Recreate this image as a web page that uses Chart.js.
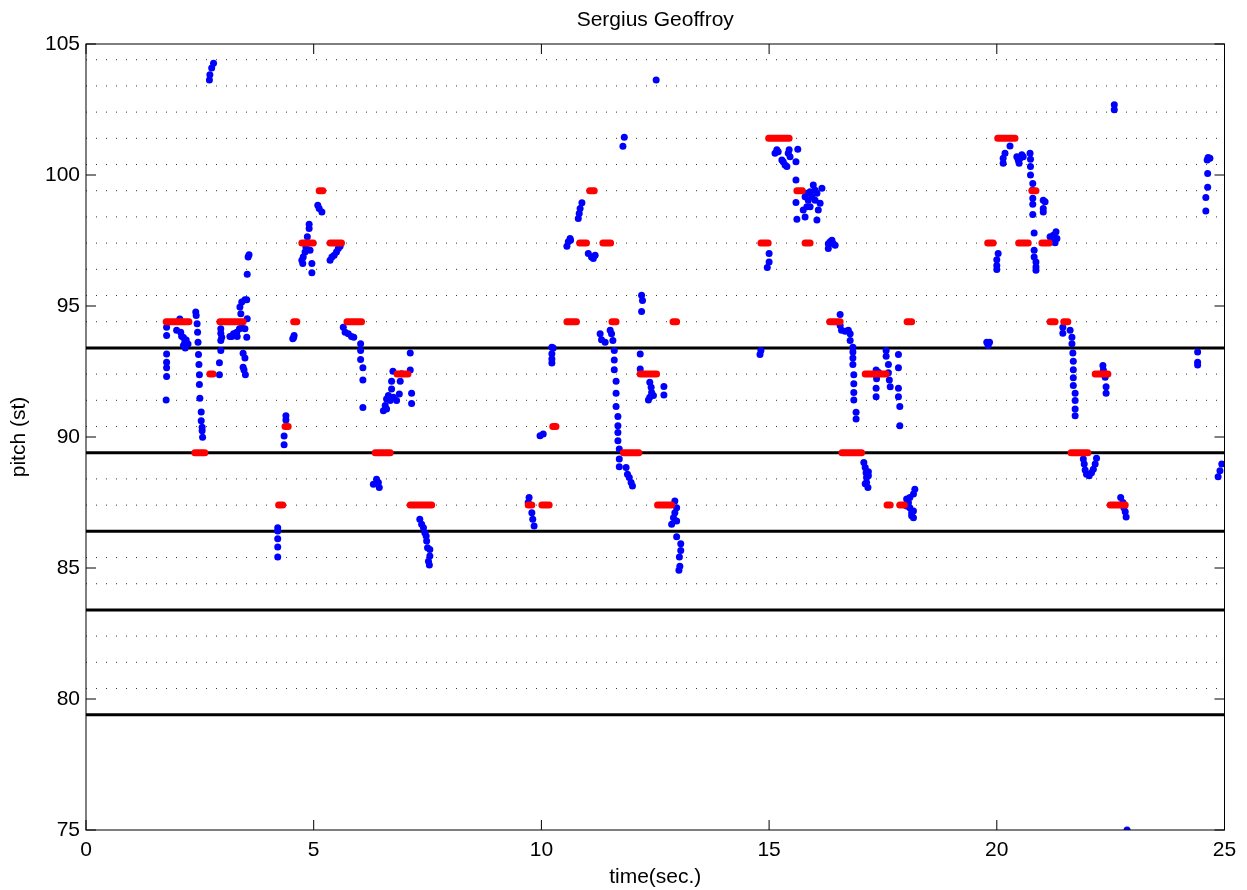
<!DOCTYPE html>
<html>
<head>
<meta charset="utf-8">
<title>Sergius Geoffroy</title>
<script src="https://cdn.jsdelivr.net/npm/chart.js@4.4.1/dist/chart.umd.min.js"></script>
<style>
    body { margin: 0; background: #fff; }
    #wrap { width: 1247px; height: 890px; }
</style>
</head>
<body>
<div id="wrap"><canvas id="pitchChart" width="1247" height="890"></canvas></div>
<script>
// axis ticks
const xTicks = [0, 5, 10, 15, 20, 25];
const yTicks = [75, 80, 85, 90, 95, 100, 105];

// semitone grid (dotted) and register lines (thick)
const semitoneLevels = [80.4, 81.4, 82.4, 84.4, 85.4, 87.4, 88.4, 90.4, 91.4, 92.4, 94.4,
    95.4, 96.4, 97.4, 98.4, 99.4, 100.4, 101.4, 102.4, 103.4, 104.4];
const registerLevels = [79.4, 83.4, 86.4, 89.4, 93.4];

// stylised notes (red): [start, end, pitch]
const notes = [
    [1.76, 2.26, 94.4], [2.39, 2.61, 89.4], [2.72, 2.79, 92.4], [2.94, 3.45, 94.4],
    [4.23, 4.32, 87.4], [4.37, 4.44, 90.4], [4.56, 4.63, 94.4], [4.74, 4.99, 97.4],
    [5.12, 5.20, 99.4], [5.36, 5.61, 97.4], [5.73, 6.05, 94.4], [6.35, 6.68, 89.4],
    [6.83, 7.07, 92.4], [7.12, 7.59, 87.4],
    [9.71, 9.79, 87.4], [10.01, 10.17, 87.4], [10.25, 10.32, 90.4], [10.56, 10.77, 94.4],
    [10.84, 10.99, 97.4], [11.06, 11.16, 99.4], [11.35, 11.52, 97.4], [11.55, 11.64, 94.4],
    [11.80, 12.14, 89.4], [12.17, 12.53, 92.4], [12.55, 12.86, 87.4], [12.89, 12.97, 94.4],
    [14.82, 14.98, 97.4], [14.99, 15.44, 101.4], [15.61, 15.73, 99.4], [15.79, 15.90, 97.4],
    [16.33, 16.56, 94.4], [16.60, 17.03, 89.4], [17.11, 17.57, 92.4], [17.59, 17.66, 87.4],
    [17.87, 17.97, 87.4], [18.03, 18.13, 94.4],
    [19.80, 19.92, 97.4], [20.02, 20.40, 101.4], [20.48, 20.69, 97.4], [20.77, 20.86, 99.4],
    [20.99, 21.15, 97.4], [21.17, 21.28, 94.4], [21.47, 21.56, 94.4], [21.63, 22.00, 89.4],
    [22.16, 22.44, 92.4], [22.49, 22.82, 87.4]
];

// measured pitch (blue): [time, pitch]
const pitchPoints = [
    [1.77, 94.19], [1.77, 93.87], [1.77, 93.17], [1.77, 92.85], [1.77, 92.64], [1.77, 92.31], [1.76, 91.41],
    [2.06, 94.5], [1.99, 94.07], [2.08, 94.0], [2.14, 93.8], [2.17, 93.62], [2.14, 93.49], [2.2, 93.7],
    [2.24, 93.55], [2.1, 93.85], [2.18, 93.4],
    [2.41, 94.77], [2.42, 94.64], [2.44, 94.32], [2.45, 94.0], [2.46, 93.62], [2.47, 93.15], [2.48, 92.77],
    [2.49, 92.38], [2.49, 92.0], [2.5, 91.48], [2.53, 90.95], [2.53, 90.62], [2.55, 90.37], [2.55, 90.24],
    [2.56, 89.99],
    [2.8, 104.27], [2.76, 104.08], [2.72, 103.83], [2.71, 103.63],
    [2.96, 94.13], [2.96, 93.96], [2.96, 93.68], [2.96, 93.3], [2.93, 92.83], [2.93, 92.38],
    [2.98, 93.81], [3.16, 93.84], [3.24, 93.94], [3.31, 94.0], [3.37, 94.13], [3.42, 94.17], [3.49, 94.13],
    [3.53, 93.81], [3.2, 93.84], [3.27, 93.94], [3.32, 93.84],
    [3.38, 94.96], [3.4, 94.7], [3.42, 95.15], [3.49, 95.24], [3.53, 95.24], [3.54, 94.51], [3.54, 96.21],
    [3.56, 96.87], [3.58, 96.96],
    [3.45, 93.2], [3.49, 93.02], [3.45, 92.66], [3.47, 92.56], [3.5, 92.38],
    [4.21, 86.54], [4.21, 86.41], [4.21, 86.12], [4.21, 85.8], [4.21, 85.42],
    [4.39, 90.81], [4.39, 90.65], [4.35, 90.04], [4.35, 89.7],
    [4.57, 93.87], [4.54, 93.75], [4.56, 93.8],
    [4.9, 98.12], [4.9, 97.96], [4.86, 97.64], [4.83, 97.23], [4.81, 97.06], [4.77, 96.87], [4.74, 96.75],
    [4.76, 96.62], [4.96, 96.62], [4.96, 96.27], [4.92, 97.13],
    [5.09, 98.85], [5.12, 98.72], [5.18, 98.59],
    [5.36, 96.75], [5.4, 96.87], [5.45, 96.94], [5.5, 97.06], [5.54, 97.19], [5.58, 97.28],
    [5.65, 94.19], [5.69, 94.0], [5.76, 93.94], [5.83, 93.84], [5.88, 93.81], [6.03, 93.56], [6.03, 93.3],
    [6.03, 92.96], [6.08, 92.64], [6.08, 92.18], [6.08, 91.13],
    [6.31, 88.2], [6.38, 88.39], [6.42, 88.26], [6.44, 88.07],
    [6.74, 92.51], [6.71, 92.13], [6.71, 91.83], [6.64, 91.58], [6.6, 91.45], [6.57, 91.2], [6.53, 91.0],
    [6.6, 91.07], [6.68, 91.39], [6.75, 91.52], [6.82, 91.39], [6.88, 91.64], [6.9, 92.13], [6.93, 92.41],
    [7.12, 92.56], [7.12, 93.21], [7.15, 91.67], [7.15, 91.28],
    [7.33, 86.86], [7.37, 86.67], [7.41, 86.54], [7.44, 86.35], [7.47, 86.22], [7.48, 86.03], [7.5, 85.77],
    [7.55, 85.71], [7.55, 85.46], [7.52, 85.26], [7.54, 85.11],
    [9.73, 87.69], [9.71, 87.5], [9.79, 87.11], [9.81, 86.86], [9.84, 86.6],
    [9.97, 90.05], [10.04, 90.11],
    [10.23, 93.43], [10.26, 93.4], [10.23, 93.18], [10.23, 92.98], [10.23, 92.82],
    [10.56, 97.28], [10.59, 97.45], [10.63, 97.58], [10.64, 97.51],
    [10.81, 98.34], [10.83, 98.53], [10.85, 98.72], [10.89, 98.94],
    [11.03, 97.0], [11.1, 96.87], [11.18, 96.94], [11.14, 96.81],
    [11.82, 101.44], [11.79, 101.1],
    [12.2, 95.41], [12.22, 95.21], [12.2, 94.79],
    [12.52, 103.63],
    [11.29, 93.94], [11.32, 93.71], [11.4, 93.62], [11.51, 94.07], [11.54, 93.94], [11.57, 93.68], [11.6, 93.3],
    [11.6, 92.94], [11.6, 92.57], [11.64, 92.13], [11.64, 91.67], [11.64, 91.16], [11.68, 90.78], [11.68, 90.43],
    [11.68, 90.17], [11.68, 89.86], [11.71, 89.54], [11.71, 89.16], [11.71, 88.86],
    [11.86, 88.84], [11.89, 88.58], [11.93, 88.45], [11.97, 88.26], [12.0, 88.13],
    [12.17, 93.17], [12.17, 92.6], [12.38, 92.09], [12.41, 91.9], [12.42, 91.7], [12.46, 91.58], [12.35, 91.41],
    [12.38, 91.52], [12.69, 91.93], [12.69, 91.6],
    [12.93, 87.56], [12.97, 87.3], [12.93, 87.11], [12.9, 86.92], [12.86, 86.67], [12.97, 86.79], [12.97, 86.19],
    [13.06, 85.93], [13.06, 85.67], [13.03, 85.42], [13.04, 85.07], [13.02, 84.91],
    [14.8, 93.15], [14.82, 93.3],
    [15.0, 97.0], [15.0, 96.68], [14.96, 96.47],
    [15.13, 100.83], [15.17, 100.96], [15.2, 100.89], [15.28, 100.57], [15.31, 100.51], [15.35, 100.38],
    [15.39, 100.32], [15.42, 100.83], [15.44, 100.96], [15.46, 100.7], [15.59, 100.51], [15.63, 100.98],
    [15.59, 99.81], [15.59, 98.95], [15.61, 98.31], [15.79, 99.17], [15.75, 98.66], [15.79, 98.4],
    [15.83, 99.3], [15.86, 99.04], [15.9, 98.79], [15.94, 99.17], [15.97, 99.62], [16.01, 99.42],
    [16.05, 99.3], [16.08, 98.66], [16.05, 98.28], [16.12, 98.92], [16.16, 99.49], [15.9, 99.36],
    [15.83, 98.79], [16.01, 99.04],
    [16.3, 97.38], [16.34, 97.45], [16.38, 97.51], [16.41, 97.38], [16.3, 97.19], [16.45, 97.32],
    [16.56, 94.68], [16.56, 94.26], [16.59, 94.07], [16.67, 94.04], [16.74, 94.07], [16.78, 93.94],
    [16.78, 93.68], [16.84, 93.43], [16.84, 93.24], [16.84, 93.02], [16.84, 92.77], [16.86, 92.38],
    [16.86, 92.03], [16.86, 91.7], [16.86, 91.41], [16.91, 90.94], [16.91, 90.69],
    [17.08, 89.03], [17.11, 88.84], [17.13, 88.64], [17.18, 88.67], [17.14, 88.45], [17.18, 88.52],
    [17.14, 88.26], [17.17, 88.07], [17.11, 88.22],
    [17.35, 92.56], [17.36, 92.22], [17.35, 91.86], [17.35, 91.54], [17.57, 93.3], [17.57, 93.08],
    [17.62, 92.77], [17.62, 92.45], [17.64, 92.18], [17.66, 91.92], [17.84, 93.15], [17.84, 92.64],
    [17.84, 91.86], [17.84, 91.54], [17.87, 91.16], [17.87, 90.43], [17.4, 92.47],
    [18.2, 88.01], [18.17, 87.82], [18.09, 87.69], [18.02, 87.63], [18.06, 87.49], [18.09, 87.3],
    [18.13, 87.11], [18.13, 86.99], [18.17, 87.18], [18.17, 86.92], [18.02, 87.37],
    [19.78, 93.62], [19.84, 93.62], [19.81, 93.49],
    [20.03, 97.0], [20.0, 96.77], [20.0, 96.55], [20.0, 96.39],
    [20.29, 101.11], [20.18, 100.83], [20.14, 100.64], [20.14, 100.45], [20.44, 100.7], [20.47, 100.57],
    [20.51, 100.64], [20.55, 100.77], [20.58, 100.7], [20.49, 100.45], [20.73, 100.83], [20.74, 100.6],
    [20.74, 100.32], [20.74, 100.0], [20.79, 99.68], [20.78, 99.42],
    [20.79, 99.11], [20.79, 98.88], [20.79, 98.49], [21.02, 99.04], [21.06, 98.98], [21.02, 98.72],
    [21.02, 98.59],
    [20.82, 97.79], [20.82, 97.13], [20.82, 96.87], [20.86, 96.68], [20.86, 96.49], [20.86, 96.36],
    [21.17, 97.64], [21.24, 97.7], [21.3, 97.83], [21.32, 97.58], [21.28, 97.41], [21.21, 97.45],
    [21.45, 94.19], [21.45, 93.96], [21.61, 94.07], [21.65, 93.81], [21.65, 93.56], [21.67, 93.21],
    [21.68, 92.89], [21.68, 92.57], [21.68, 92.26], [21.68, 91.97], [21.72, 91.67], [21.72, 91.39],
    [21.72, 91.07], [21.72, 90.81],
    [21.9, 89.16], [21.92, 88.97], [21.94, 88.74], [21.97, 88.58], [22.03, 88.52], [22.08, 88.64],
    [22.12, 88.77], [22.16, 88.97], [22.19, 89.19],
    [22.33, 92.73], [22.34, 92.56], [22.38, 92.28], [22.4, 91.92], [22.4, 91.67],
    [22.58, 102.68], [22.58, 102.49],
    [22.72, 87.69], [22.77, 87.5], [22.79, 87.3], [22.84, 86.95], [22.82, 87.15],
    [22.86, 75.0],
    [24.41, 93.24], [24.41, 92.85], [24.41, 92.75],
    [24.64, 100.67], [24.68, 100.64], [24.62, 100.57], [24.63, 100.06], [24.63, 99.53], [24.59, 99.14],
    [24.59, 98.63],
    [24.94, 88.97], [24.9, 88.71], [24.86, 88.48]
];

// horizontal lines across the whole time range, broken by gaps
function levelLines(levels) {
    const pts = [];
    levels.forEach(l => {
        pts.push({ x: xTicks[0], y: l }, { x: xTicks[xTicks.length - 1], y: l }, { x: xTicks[0], y: null });
    });
    return pts;
}

function noteLines(list) {
    const pts = [];
    list.forEach(n => {
        pts.push({ x: n[0], y: n[2] }, { x: n[1], y: n[2] }, { x: n[1], y: null });
    });
    return pts;
}

// frame, inward ticks and title like the matlab figure
const matlabFrame = {
    id: "matlabFrame",
    afterDatasetsDraw(chart) {
        const { ctx, chartArea: a, scales: { x, y } } = chart;
        ctx.save();
        ctx.strokeStyle = "#000";
        ctx.lineWidth = 1;
        ctx.beginPath();
        xTicks.forEach(v => {
            const px = x.getPixelForValue(v);
            ctx.moveTo(px, a.bottom); ctx.lineTo(px, a.bottom - 10);
            ctx.moveTo(px, a.top); ctx.lineTo(px, a.top + 10);
        });
        yTicks.forEach(v => {
            const py = y.getPixelForValue(v);
            ctx.moveTo(a.left, py); ctx.lineTo(a.left + 10, py);
            ctx.moveTo(a.right, py); ctx.lineTo(a.right - 10, py);
        });
        ctx.stroke();
        ctx.strokeRect(a.left, a.top, a.right - a.left, a.bottom - a.top);

        ctx.fillStyle = "#000";
        ctx.font = '21px "Liberation Sans", Arial, sans-serif';
        ctx.textAlign = "center";
        ctx.textBaseline = "middle";
        ctx.fillText("Sergius Geoffroy", (a.left + a.right) / 2, 20);
        ctx.restore();
    }
};

Chart.defaults.font.family = '"Liberation Sans", Arial, sans-serif';
Chart.defaults.color = "#000";

new Chart(document.getElementById("pitchChart"), {
    type: "scatter",
    data: {
        datasets: [
            {
                type: "line",
                label: "notes",
                data: noteLines(notes),
                borderColor: "#ff0000",
                borderWidth: 7,
                borderCapStyle: "round",
                pointRadius: 0,
                spanGaps: false,
                order: 1
            },
            {
                label: "pitch",
                data: pitchPoints.map(p => ({ x: p[0], y: p[1] })),
                backgroundColor: "#0000ff",
                borderWidth: 0,
                pointRadius: 3.5,
                clip: 0,
                order: 2
            },
            {
                type: "line",
                label: "registers",
                data: levelLines(registerLevels),
                borderColor: "#000",
                borderWidth: 3,
                pointRadius: 0,
                spanGaps: false,
                order: 3
            },
            {
                type: "line",
                label: "semitones",
                data: levelLines(semitoneLevels),
                borderColor: "#333",
                borderWidth: 1,
                borderDash: [1, 9],
                pointRadius: 0,
                spanGaps: false,
                order: 4
            }
        ]
    },
    options: {
        responsive: false,
        devicePixelRatio: 1,
        animation: false,
        layout: { padding: { left: 0, right: 22.5, top: 44, bottom: 0 } },
        plugins: {
            legend: { display: false },
            tooltip: { enabled: false }
        },
        scales: {
            x: {
                type: "linear",
                min: 0,
                max: 25,
                grid: { display: false, drawTicks: false },
                border: { display: false },
                afterBuildTicks: s => { s.ticks = xTicks.map(v => ({ value: v })); },
                afterFit: s => { s.height = 60; },
                ticks: { font: { size: 21 }, padding: 8, maxRotation: 0 },
                title: { display: true, text: "time(sec.)", font: { size: 21 }, padding: { top: 0, bottom: 0 } }
            },
            y: {
                type: "linear",
                min: 75,
                max: 105,
                grid: { display: false, drawTicks: false },
                border: { display: false },
                afterBuildTicks: s => { s.ticks = yTicks.map(v => ({ value: v })); },
                afterFit: s => { s.width = 86; },
                ticks: { font: { size: 21 }, padding: 6 },
                title: { display: true, text: "pitch (st)", font: { size: 21 }, padding: { top: 7, bottom: 0 } }
            }
        }
    },
    plugins: [matlabFrame]
});
</script>
</body>
</html>
